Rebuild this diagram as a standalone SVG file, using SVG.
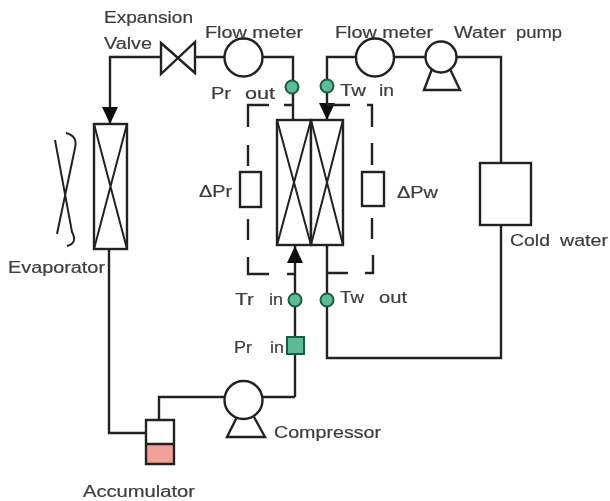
<svg xmlns="http://www.w3.org/2000/svg" width="610" height="501" viewBox="0 0 610 501">
<defs>
<filter id="soft" x="-5%" y="-5%" width="110%" height="110%"><feGaussianBlur stdDeviation="0.55"/></filter>
<marker id="ah" markerUnits="userSpaceOnUse" markerWidth="18" markerHeight="18" refX="17" refY="9" orient="auto"><path d="M0 1L17 9L0 17Z" fill="#111"/></marker>
</defs>
<style>
.l{fill:none;stroke:#222;stroke-width:2.4}
.b{fill:#fff;stroke:#222;stroke-width:2.4}
.t{fill:none;stroke:#222;stroke-width:2}
.s{fill:#5dbb95;stroke:#1f5a46;stroke-width:2}
text{font-family:"Liberation Sans",Arial,sans-serif;font-size:16px;fill:#3d3d3d;stroke:#3d3d3d;stroke-width:.2}
</style>
<rect width="610" height="501" fill="#fff"/>
<g filter="url(#soft)">
<g id="connectors">
<path class="l" d="M161 57H110V124" marker-end="url(#ah)"/>
<path class="l" d="M195 57H225M262 57H293V120"/>
<path class="l" d="M356 57H327V120" marker-end="url(#ah)"/>
<path class="l" d="M394 57H425M455 57H501V163"/>
<path class="l" d="M501 225V358H327V245"/>
<path class="l" d="M295 397V246" marker-end="url(#ah)"/>
<path class="l" d="M262 397H295M224 397H159V420"/>
<path class="l" d="M109 249V433H146"/>
</g>
<g id="dashed-enclosure">
<path class="l" d="M269 105H248V127M248 145V166M248 219V240M248 257V274H269M287 274H295M284 105H293"/>
<path class="l" d="M327 105H350M367 105H372V127M372 143V165M372 218V239M373 255V273H365M327 273H348"/>
</g>
<g id="valve"><path class="b" d="M161 43L195 73V42L161 74Z"/></g>
<g id="flow-meter-r"><circle class="b" cx="243.500" cy="57.500" r="19"/></g>
<g id="flow-meter-w"><circle class="b" cx="375" cy="57.500" r="19"/></g>
<g id="water-pump"><path class="b" d="M432 69L424 90H460L450 69"/><circle class="b" cx="441" cy="57" r="15.500"/></g>
<g id="evaporator"><rect class="b" x="94" y="124" width="33" height="125"/><path class="t" d="M94 124L127 249M127 124L94 249"/></g>
<g id="fan"><path class="t" d="M55 140L72 232Q78 243 67 246M66 133Q78 136 75 148L57 234"/></g>
<g id="heat-exchanger">
<rect class="b" x="277" y="120" width="34" height="125"/>
<rect class="b" x="311" y="120" width="32" height="125"/>
<path class="t" d="M277 120L311 245M311 120L277 245M311 120L343 245M343 120L311 245"/>
</g>
<g id="dp-r"><rect class="b" x="240" y="172" width="21" height="35"/></g>
<g id="dp-w"><rect class="b" x="362" y="172" width="22" height="34"/></g>
<g id="cold-water"><rect class="b" x="480" y="163" width="51" height="62"/></g>
<g id="sensor-pr-out"><circle class="s" cx="292" cy="87" r="6.500"/></g>
<g id="sensor-tw-in"><circle class="s" cx="327" cy="86" r="6.500"/></g>
<g id="sensor-tr-in"><circle class="s" cx="295" cy="300" r="6.500"/></g>
<g id="sensor-tw-out"><circle class="s" cx="327" cy="300" r="6.500"/></g>
<g id="sensor-pr-in"><rect class="s" x="287" y="337" width="17" height="17"/></g>
<g id="compressor"><path class="b" d="M237 417L227 437H265L254 417"/><circle class="b" cx="243.500" cy="400" r="19"/></g>
<g id="accumulator"><rect x="146" y="420" width="28" height="24" fill="#fff"/><rect x="146" y="444" width="28" height="20" fill="#f2a09a"/><path class="b" style="fill:none" d="M146 420H174V464H146ZM146 444H174"/></g>
<g id="labels">
<text x="104" y="23" textLength="89" lengthAdjust="spacingAndGlyphs">Expansion</text>
<text x="104" y="49" textLength="48" lengthAdjust="spacingAndGlyphs">Valve</text>
<text x="205" y="38" textLength="98" lengthAdjust="spacingAndGlyphs">Flow meter</text>
<text x="335" y="38" textLength="98" lengthAdjust="spacingAndGlyphs">Flow meter</text>
<text x="454" y="38" textLength="52" lengthAdjust="spacingAndGlyphs">Water</text>
<text x="516" y="38" textLength="46" lengthAdjust="spacingAndGlyphs">pump</text>
<text x="211" y="99" textLength="20" lengthAdjust="spacingAndGlyphs">Pr</text>
<text x="245" y="99" textLength="30" lengthAdjust="spacingAndGlyphs">out</text>
<text x="340" y="96" textLength="26" lengthAdjust="spacingAndGlyphs">Tw</text>
<text x="379" y="96" textLength="15" lengthAdjust="spacingAndGlyphs">in</text>
<text x="199" y="197" textLength="33" lengthAdjust="spacingAndGlyphs">ΔPr</text>
<text x="397" y="198" textLength="41" lengthAdjust="spacingAndGlyphs">ΔPw</text>
<text x="510" y="246" textLength="40" lengthAdjust="spacingAndGlyphs">Cold</text>
<text x="560" y="246" textLength="48" lengthAdjust="spacingAndGlyphs">water</text>
<text x="8" y="273" textLength="97" lengthAdjust="spacingAndGlyphs">Evaporator</text>
<text x="235" y="305" textLength="19" lengthAdjust="spacingAndGlyphs">Tr</text>
<text x="269" y="305" textLength="14" lengthAdjust="spacingAndGlyphs">in</text>
<text x="340" y="303" textLength="24" lengthAdjust="spacingAndGlyphs">Tw</text>
<text x="379" y="303" textLength="28" lengthAdjust="spacingAndGlyphs">out</text>
<text x="234" y="353" textLength="18" lengthAdjust="spacingAndGlyphs">Pr</text>
<text x="270" y="353" textLength="14" lengthAdjust="spacingAndGlyphs">in</text>
<text x="274" y="438" textLength="107" lengthAdjust="spacingAndGlyphs">Compressor</text>
<text x="83" y="497" textLength="112" lengthAdjust="spacingAndGlyphs">Accumulator</text>
</g>
</g>
</svg>
